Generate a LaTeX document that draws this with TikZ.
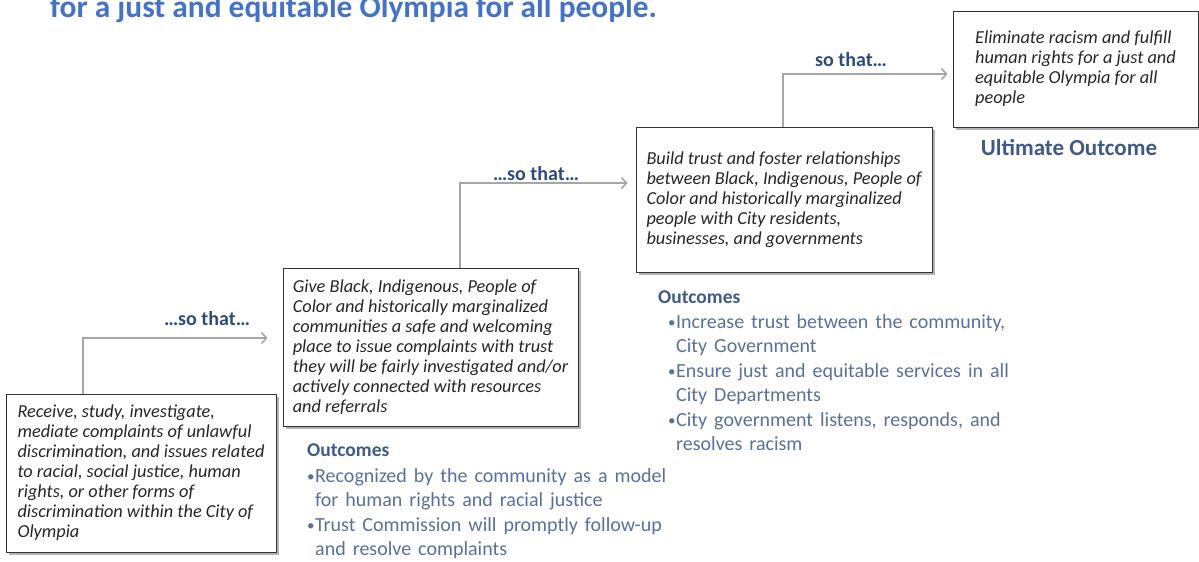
\documentclass[tikz,border=0pt]{standalone}
\usepackage{fontspec}
\setmainfont{Carlito}
\usepackage{tikz}
\usetikzlibrary{arrows.meta,shadows}

\definecolor{titleblue}{HTML}{4472C4}
\definecolor{sothatblue}{HTML}{2F4B7C}
\definecolor{outhead}{HTML}{3F5A85}
\definecolor{outtext}{HTML}{5A7099}
\definecolor{linkgray}{HTML}{A6A6A6}

\newcommand{\outbullet}{\makebox[8pt][l]{\raisebox{0.8pt}{\fontsize{15}{15}\selectfont•}}}
\newcommand{\widespaces}{\spaceskip=7pt plus 1pt minus 1pt\relax}

\begin{document}
\begin{tikzpicture}[x=1pt,y=-1pt,
	stepbox/.style={draw=black!80, line width=0.9pt, fill=white, align=left,
		inner xsep=0pt, inner ysep=0pt, text=black!85,
		font=\fontsize{18.3}{20}\selectfont\itshape,
		drop shadow={shadow xshift=2.5pt, shadow yshift=-2.5pt, fill=black!50, opacity=.6}},
	link/.style={draw=linkgray, line width=1.6pt, -{Straight Barb[length=5pt,width=11pt]}},
	sothat/.style={text=sothatblue, font=\fontsize{20}{22}\selectfont\bfseries},
	outhd/.style={text=outhead, anchor=base west, inner sep=0pt, font=\fontsize{19.5}{24}\selectfont\bfseries},
	outlist/.style={text=outtext, anchor=base west, inner sep=0pt,
		font=\fontsize{20}{24.5}\selectfont\widespaces}]
	\useasboundingbox (0,0) rectangle (1199,562);

	\node[anchor=base west, inner sep=0pt, text=titleblue, font=\fontsize{31.4}{34}\selectfont\bfseries]
		(title) at (50,17) {for a just and equitable Olympia for all people.};

	% the four steps
	\node[stepbox, minimum width=270pt, minimum height=158pt] (receive) at (141,473)
		{Receive, study, investigate,\\ mediate complaints of unlawful\\ discrimination, and issues related\\
		to racial, social justice, human\\ rights, or other forms of\\ discrimination within the City of\\ Olympia};
	\node[stepbox, minimum width=295pt, minimum height=158pt] (give) at (430.5,347)
		{Give Black, Indigenous, People of\\ Color and historically marginalized\\ communities a safe and welcoming\\
		place to issue complaints with trust\\ they will be fairly investigated and/or\\ actively connected with resources\\ and referrals};
	\node[stepbox, minimum width=296pt, minimum height=145pt] (build) at (784,199.5)
		{Build trust and foster relationships\\ between Black, Indigenous, People of\\ Color and historically marginalized\\
		people with City residents,\\ businesses, and governments};
	\node[stepbox, minimum width=245pt, minimum height=116pt] (eliminate) at (1075.5,69)
		{Eliminate racism and fulfill\\ human rights for a just and\\ equitable Olympia for all\\ people};

	\node[anchor=base, inner sep=0pt, text=outhead, font=\fontsize{23}{26}\selectfont\bfseries]
		(ultimate) at (1069,155) {Ultimate Outcome};

	% so that...
	\coordinate (k1) at (83,338);
	\coordinate (k2) at (460,183);
	\coordinate (k3) at (783,74);
	\draw[link] (receive.north -| k1) |- ([xshift=-15pt]k1 -| give.west);
	\draw[link] (give.north -| k2) |- ([xshift=-8pt]k2 -| build.west);
	\draw[link] (build.north -| k3) |- ([xshift=-5pt]k3 -| eliminate.west);
	\node[sothat] (s1) at (207,319) {…so that…};
	\node[sothat] (s2) at (536,174) {…so that…};
	\node[sothat] (s3) at (851,60) {so that…};

	% outcomes
	\node[outhd] (hdgive) at (307,456) {Outcomes};
	\node[outlist] (lsgive) at (307,482)
		{\begin{tabular}[t]{@{}l@{}l@{}}
			\outbullet & Recognized by the community as a model\\
			  & for human rights and racial justice\\
			\outbullet & Trust Commission will promptly follow-up\\
			  & and resolve complaints
		\end{tabular}};
	\node[outhd] (hdbuild) at (658,303) {Outcomes};
	\node[outlist] (lsbuild) at (668,328)
		{\begin{tabular}[t]{@{}l@{}l@{}}
			\outbullet & Increase trust between the community,\\
			  & City Government\\
			\outbullet & Ensure just and equitable services in all\\
			  & City Departments\\
			\outbullet & City government listens, responds, and\\
			  & resolves racism
		\end{tabular}};
\end{tikzpicture}
\end{document}
